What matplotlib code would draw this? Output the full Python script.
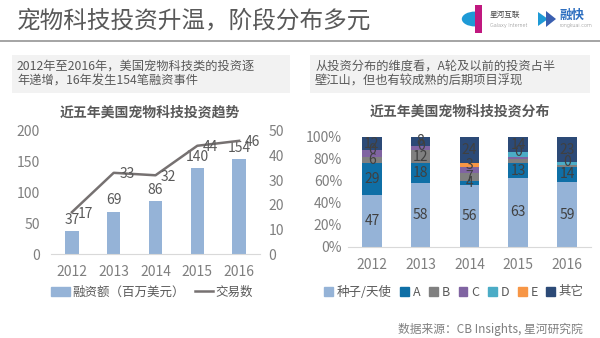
import matplotlib

matplotlib.use("Agg")
import matplotlib.pyplot as plt
from matplotlib.patches import Rectangle, Patch, Wedge, Polygon
from matplotlib.lines import Line2D
import numpy as np

plt.rcParams["font.family"] = ["Noto Sans CJK SC", "DejaVu Sans"]
plt.rcParams["font.weight"] = "light"

years = ["2012", "2013", "2014", "2015", "2016"]

# left chart: funding (million USD) and deal count
funding = [37, 69, 86, 140, 154]
deals = [17, 33, 32, 44, 46]

# right chart: stage distribution (%)
stage_names = ["种子/天使", "A", "B", "C", "D", "E", "其它"]
seed = [47, 58, 56, 63, 59]
round_a = [29, 18, 4, 13, 14]
round_b = [6, 12, 7, 4, 2]
round_c = [6, 4, 6, 2, 0]
round_d = [0, 0, 0, 4, 2]
round_e = [0, 0, 3, 0, 0]
other = [12, 8, 24, 14, 23]
stage_colors = ["#95B3D7", "#0F6FA6", "#808080", "#8064A2", "#4BACC6", "#F79646", "#2C4A77"]

W, H = 600, 338
fig = plt.figure(figsize=(W / 100, H / 100), dpi=100)
fig.patch.set_facecolor("white")


def px(x, y):
    # pixel coords (top-left origin) -> figure fraction
    return x / W, 1 - y / H


def fax(left, top, width, height):
    return fig.add_axes([left / W, 1 - (top + height) / H, width / W, height / H])


# header
fig.text(*px(17, 21), "宠物科技投资升温，阶段分布多元", fontsize=17, color="#595959",
         va="center", ha="left")
fig.add_artist(Rectangle(px(0, 42), 1, 2 / H, transform=fig.transFigure,
                         color="#A6A6A6", lw=0))

# logos (rough)
lx, ly = 475, 19
fig.add_artist(Wedge(px(lx, ly), 0.022, 90, 270, transform=fig.transFigure,
                     color="#1E9AD6", lw=0))
fig.add_artist(Rectangle(px(lx, 33), 7 / W, 28 / H, transform=fig.transFigure,
                         color="#C0187F", lw=0))
fig.text(*px(490, 15), "星河互联", fontsize=5.5, color="#444444", va="center")
fig.text(*px(490, 25), "Galaxy Internet", fontsize=3.5, color="#666666", va="center",
         family="DejaVu Sans")
fig.add_artist(Polygon([px(538, 12), px(548, 19), px(538, 26)], closed=True,
                       transform=fig.transFigure, color="#1E9AD6", lw=0))
fig.add_artist(Polygon([px(546, 11), px(556, 19), px(546, 27)], closed=True,
                       transform=fig.transFigure, color="#3A5FB0", lw=0))
fig.text(*px(560, 15), "融快", fontsize=9, color="#2E6FC0", va="center", weight="bold")
fig.text(*px(560, 26), "rongkuai.com", fontsize=3.5, color="#666666", va="center",
         family="DejaVu Sans")

# text boxes
for x0, x1, lines in [
    (12, 290, ["2012年至2016年，美国宠物科技类的投资逐", "年递增，16年发生154笔融资事件"]),
    (310, 590, ["从投资分布的维度看，A轮及以前的投资占半", "壁江山，但也有较成熟的后期项目浮现"]),
]:
    fig.add_artist(Rectangle(px(x0, 93), (x1 - x0) / W, 38 / H, transform=fig.transFigure,
                             color="#F2F2F2", lw=0))
    fig.text(*px(x0 + 5, 66), lines[0], fontsize=8.8, color="#595959", va="center")
    fig.text(*px(x0 + 5, 81), lines[1], fontsize=8.8, color="#595959", va="center")

grey = "#7F7F7F"

# ---- left chart ----
ax1 = fax(51, 131, 209, 123)
x = np.arange(len(years))
bars = ax1.bar(x, funding, width=0.32, color="#95B3D7")
ax1.set_xlim(-0.5, 4.5)
ax1.set_ylim(0, 200)
ax1.set_yticks([0, 50, 100, 150, 200])
ax1.set_xticks(x, years)
for b, v in zip(bars, funding):
    ax1.annotate(str(v), (b.get_x() + b.get_width() / 2, v), xytext=(0, 3),
                 textcoords="offset points", ha="center", va="bottom",
                 fontsize=10, color="#595959")
ax1b = ax1.twinx()
ax1b.plot(x, deals, color="#767171", lw=1.8)
ax1b.set_ylim(0, 50)
ax1b.set_yticks([0, 10, 20, 30, 40, 50])
for xi, v in zip(x, deals):
    ax1b.annotate(str(v), (xi, v), xytext=(4, -1), textcoords="offset points",
                  ha="left", va="center", fontsize=10, color="#595959")
for a in (ax1, ax1b):
    for s in a.spines.values():
        s.set_visible(False)
    a.tick_params(length=0, labelsize=10, colors=grey)
ax1.spines["bottom"].set_visible(True)
ax1.spines["bottom"].set_color("#D9D9D9")
ax1.tick_params(axis="x", pad=8)
ax1.tick_params(axis="y", pad=8)
ax1b.tick_params(axis="y", pad=6)
fig.text(*px(150, 113), "近五年美国宠物科技投资趋势", fontsize=10, weight="bold",
         color="#595959", ha="center", va="center")
handles = [Patch(color="#95B3D7"), Line2D([], [], color="#767171", lw=1.8)]
fig.legend(handles, ["融资额（百万美元）", "交易数"], loc="center",
           bbox_to_anchor=px(152, 292), ncol=2, frameon=False, fontsize=9,
           handlelength=1.5, handleheight=0.7, handletextpad=0.2, columnspacing=0.8,
           labelcolor="#595959")

# ---- right chart ----
ax2 = fax(347.6, 137, 243.75, 110)
series = [seed, round_a, round_b, round_c, round_d, round_e, other]
bottom = np.zeros(len(years))
labels = [[] for _ in years]  # per bar: [y, text]; later labels cover close earlier ones
for vals, col in zip(series, stage_colors):
    ax2.bar(x, vals, bottom=bottom, width=0.4, color=col)
    for i, (b0, v) in enumerate(zip(bottom, vals)):
        yc = b0 + v / 2
        if labels[i] and yc - labels[i][-1][0] < 3.5:
            labels[i][-1] = [yc, str(v)]
        else:
            labels[i].append([yc, str(v)])
    bottom += np.array(vals)
for xi, bar_labels in zip(x, labels):
    for yc, t in bar_labels:
        ax2.text(xi, yc, t, ha="center", va="center", fontsize=10, color="#404040")
ax2.set_xlim(-0.5, 4.5)
ax2.set_ylim(0, 100)
ax2.set_yticks(range(0, 101, 20), [f"{v}%" for v in range(0, 101, 20)])
ax2.set_xticks(x, years)
for s in ax2.spines.values():
    s.set_visible(False)
ax2.spines["bottom"].set_visible(True)
ax2.spines["bottom"].set_color("#D9D9D9")
ax2.tick_params(length=0, labelsize=10, colors=grey)
ax2.tick_params(axis="x", pad=8)
ax2.tick_params(axis="y", pad=4)
fig.text(*px(460, 112), "近五年美国宠物科技投资分布", fontsize=10, weight="bold",
         color="#595959", ha="center", va="center")
handles = [Patch(color=c) for c in stage_colors]
fig.legend(handles, stage_names, loc="center", bbox_to_anchor=px(454, 292), ncol=7,
           frameon=False, fontsize=9, handlelength=0.7, handleheight=0.7,
           handletextpad=0.3, columnspacing=0.7, labelcolor="#595959")

fig.text(*px(583, 329), "数据来源：CB Insights, 星河研究院", fontsize=8.5, color=grey,
         ha="right", va="center")

fig.savefig("out.png", dpi=100)
